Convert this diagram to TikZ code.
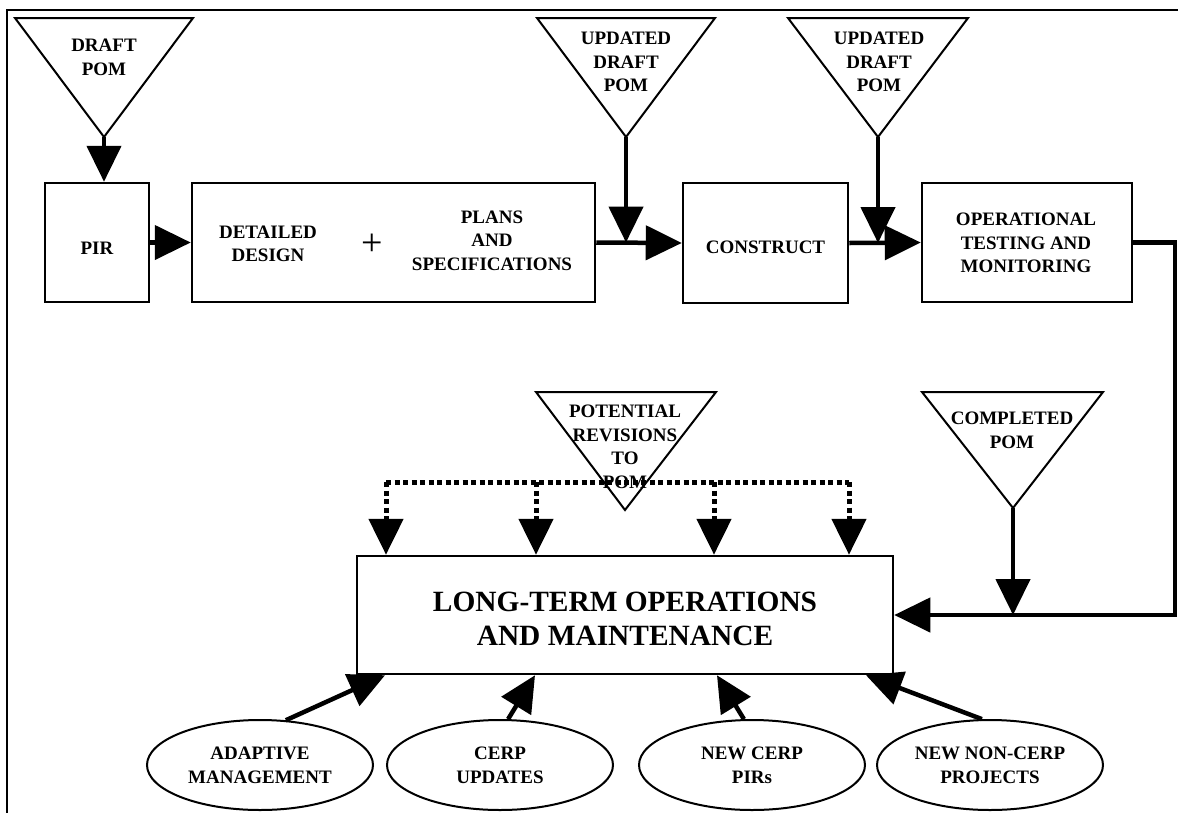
\documentclass[tikz,border=0pt]{standalone}
\usepackage{fontspec}
\setmainfont{Liberation Serif}
\usetikzlibrary{arrows.meta,shapes.geometric,calc}
\begin{document}
\begin{tikzpicture}[x=1pt,y=-1pt,
  txt/.style={font=\fontsize{19}{23.5}\selectfont\bfseries, align=center, inner sep=0pt},
  bigtxt/.style={font=\fontsize{29.4}{34.5}\selectfont\bfseries, align=center, inner sep=0pt},
  boxnode/.style={draw, line width=2.5pt, inner sep=0pt},
  tri/.style={draw, line width=2pt, line join=miter},
  ell/.style={draw, line width=2pt, ellipse, minimum width=226pt, minimum height=90pt, inner sep=0pt,
              font=\fontsize{19}{24}\selectfont\bfseries, align=center},
  tip/.style={-{Triangle[length=36pt,width=34pt]}},
  arr/.style={line width=4.5pt, tip},
  dots/.style={line width=5pt, dash pattern=on 5pt off 3.5pt},
]
\useasboundingbox (0,0) rectangle (1178,812);
\clip (0,0) rectangle (1178,812);

% frame
\draw[line width=2.5pt] (7,830) -- (7,10) -- (1190,10);

% top row boxes
\node[boxnode, minimum width=104pt, minimum height=119pt] (pir) at (97,242.5) {};
\node[txt] (pirt) at (97,248) {PIR};
\node[boxnode, minimum width=403pt, minimum height=119pt] (dd) at (393.5,242.5) {};
\node[txt] (ddt) at (268,243.7) {DETAILED\\DESIGN};
\node[inner sep=0pt, font=\fontsize{38}{38}\selectfont] (plus) at (372,245) {+};
\node[txt] (pst) at (492,240.7) {PLANS\\AND\\SPECIFICATIONS};
\node[boxnode, minimum width=165pt, minimum height=120pt] (con) at (765.5,243) {};
\node[txt] (cont) at (765.5,247) {CONSTRUCT};
\node[boxnode, minimum width=210pt, minimum height=119pt] (otm) at (1027,242.5) {};
\node[txt] (otmt) at (1026,243) {OPERATIONAL\\TESTING AND\\MONITORING};

% long-term box
\node[boxnode, minimum width=536pt, minimum height=118pt] (ltom) at (625,615) {};
\node[bigtxt] (ltomt) at (625,619) {LONG-TERM OPERATIONS\\AND MAINTENANCE};

% triangles
\coordinate (t1a) at (15,18); \coordinate (t1b) at (193,18); \coordinate (t1c) at (104,137);
\draw[tri] (t1a) -- (t1b) -- (t1c) -- cycle;
\node[txt] (t1t) at (104,57.2) {DRAFT\\POM};

\coordinate (t2a) at (537,18); \coordinate (t2b) at (715,18); \coordinate (t2c) at (626,137);
\draw[tri] (t2a) -- (t2b) -- (t2c) -- cycle;
\node[txt] (t2t) at (626,62.2) {UPDATED\\DRAFT\\POM};

\coordinate (t3a) at (788,18); \coordinate (t3b) at (968,18); \coordinate (t3c) at (878,137);
\draw[tri] (t3a) -- (t3b) -- (t3c) -- cycle;
\node[txt] (t3t) at (879,62.2) {UPDATED\\DRAFT\\POM};

\coordinate (tca) at (922,392); \coordinate (tcb) at (1103,392); \coordinate (tcc) at (1013,508);
\draw[tri] (tca) -- (tcb) -- (tcc) -- cycle;
\node[txt] (tct) at (1012,430.2) {COMPLETED\\POM};

\coordinate (tpa) at (536,392); \coordinate (tpb) at (716,392); \coordinate (tpc) at (625,510);
\draw[tri] (tpa) -- (tpb) -- (tpc) -- cycle;

% dotted distribution
\coordinate (dl) at (386,482); \coordinate (d2) at (536,482);
\coordinate (d3) at (714,482); \coordinate (dr) at (849,482);
\draw[dots] (dl) -- (dr);
\foreach \c in {dl,d2,d3,dr}
  \draw[dots, tip] (\c) -- (\c |- ltom.north);
\node[txt] (tpt) at (625,446.7) {POTENTIAL\\REVISIONS\\TO\\POM};

% top-row connectors
\draw[arr] (t1c) -- (t1c |- pir.north);
\draw[arr] (pir.east) -- (dd.west);
\draw[arr] (dd.east) -- (con.west);
\draw[arr] (t2c) -- (t2c |- dd.east);
\draw[arr] (con.east) -- (otm.west);
\draw[arr] (t3c) -- (t3c |- con.east);
\coordinate (rc) at (1175,615);
\draw[arr, line join=miter] (otm.east) -| (rc) -- (ltom.east);
\draw[arr] (tcc) -- (tcc |- ltom.east);

% ellipses
\node[ell] (e1) at (260,765) {ADAPTIVE\\MANAGEMENT};
\node[ell] (e2) at (500,765) {CERP\\UPDATES};
\node[ell] (e3) at (752,765) {NEW CERP\\PIRs};
\node[ell] (e4) at (990,765) {NEW NON-CERP\\PROJECTS};

\coordinate (b1) at (385,0); \coordinate (b2) at (535,0);
\coordinate (b3) at (717,0); \coordinate (b4) at (866,0);
\draw[arr] (e1.60) -- (b1 |- ltom.south);
\draw[arr] (e2.80) -- (b2 |- ltom.south);
\draw[arr] (e3.100) -- (b3 |- ltom.south);
\draw[arr] (e4.100) -- (b4 |- ltom.south);
\end{tikzpicture}
\end{document}
